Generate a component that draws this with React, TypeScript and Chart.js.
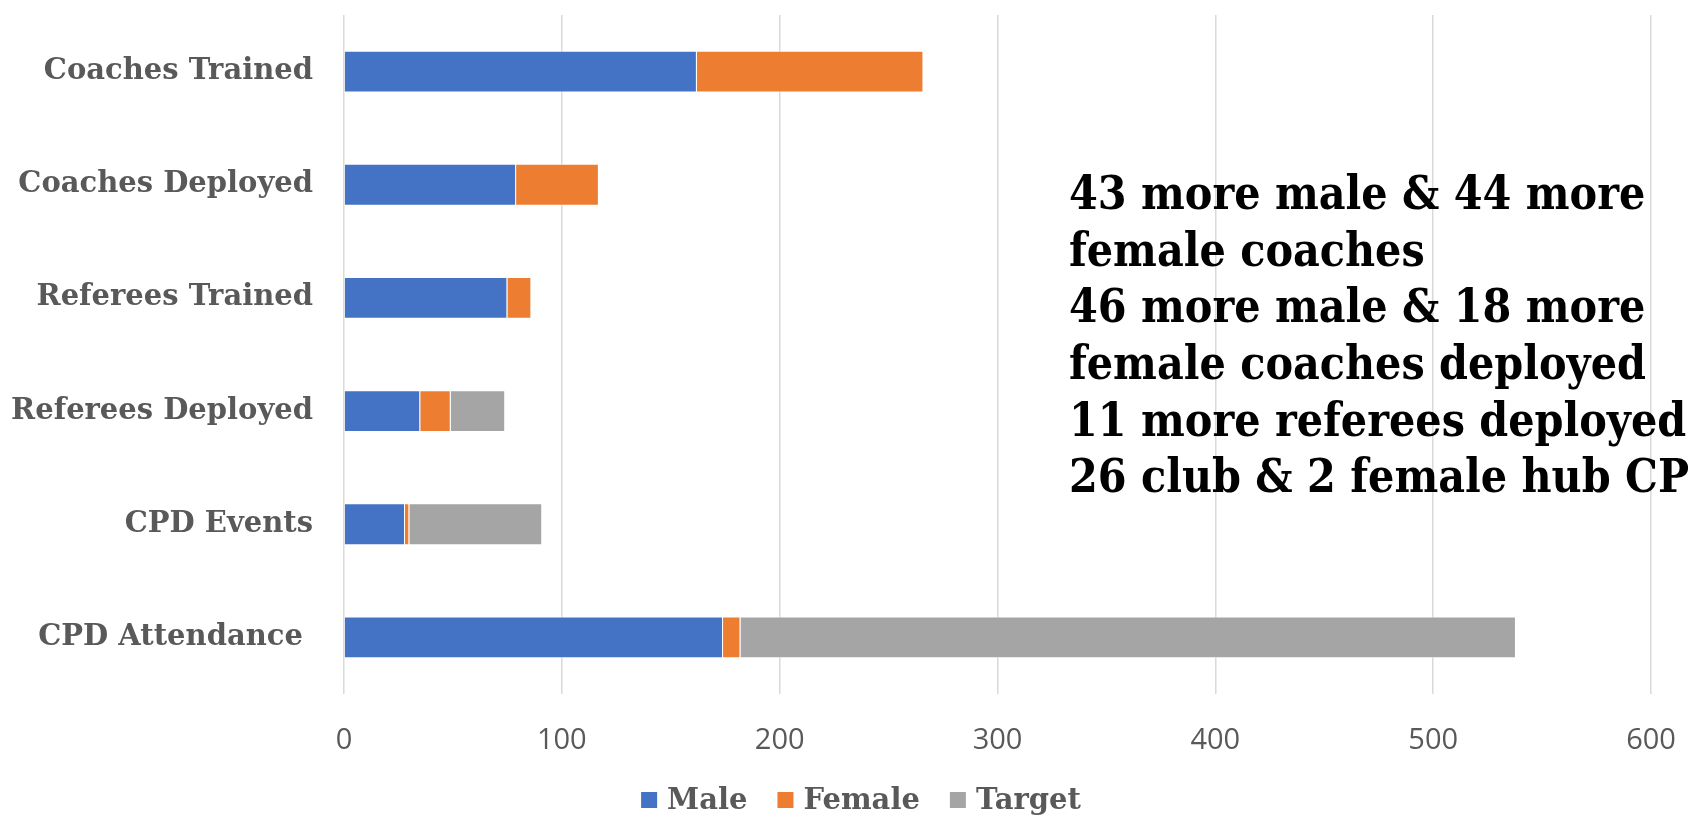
import React, { useEffect, useRef } from "react";
import { Chart, registerables } from "chart.js";

Chart.register(...registerables);

const categories = [
  "Coaches Trained",
  "Coaches Deployed",
  "Referees Trained",
  "Referees Deployed",
  "CPD Events",
  "CPD Attendance ",
];
const maleValues = [162, 79, 75, 35, 28, 174];
const femaleValues = [104, 38, 11, 14, 2, 8];
const targetValues = [null, null, null, 25, 61, 356];
const seriesNames = ["Male", "Female", "Target"];
const seriesColors = ["#4472C4", "#ED7D31", "#A5A5A5"];
const xMin = 0;
const xMax = 600;
const xStep = 100;
const annotationLines = [
  "43 more male & 44 more",
  "female coaches",
  "46 more male & 18 more",
  "female coaches deployed",
  "11 more referees deployed",
  "26 club & 2 female hub CPD events",
];

const SLAB = '"DejaVu Serif", serif';
const SLAB_COND = '"DejaVu Serif Condensed", "DejaVu Serif", serif';

const annotationPlugin = {
  id: "annotationText",
  afterDraw(chart: any) {
    const ctx = chart.ctx;
    ctx.save();
    ctx.fillStyle = "#000000";
    ctx.font = `bold 46px ${SLAB_COND}`;
    ctx.textBaseline = "middle";
    ctx.textAlign = "left";
    annotationLines.forEach((line, i) => {
      ctx.fillText(line, 1069, 197 + i * 56.7);
    });
    ctx.restore();
  },
};

const legendPlugin = {
  id: "customLegend",
  afterDraw(chart: any) {
    const ctx = chart.ctx;
    const items = chart.data.datasets.map((d: any) => ({ text: d.label, color: d.backgroundColor }));
    ctx.save();
    ctx.font = `bold 29px ${SLAB}`;
    ctx.textBaseline = "middle";
    ctx.textAlign = "left";
    const box = 16;
    const gapBoxText = 10;
    const gapItems = 30;
    const widths = items.map((it: any) => box + gapBoxText + ctx.measureText(it.text).width);
    const total = widths.reduce((a: number, b: number) => a + b, 0) + gapItems * (items.length - 1);
    let x = 861 - total / 2;
    const cy = 800;
    items.forEach((it: any, i: number) => {
      ctx.fillStyle = it.color;
      ctx.fillRect(x, cy - box / 2, box, box);
      ctx.fillStyle = "#595959";
      ctx.fillText(it.text, x + box + gapBoxText, cy + 1);
      x += widths[i] + gapItems;
    });
    ctx.restore();
  },
};

export default function App() {
  const canvasRef = useRef<HTMLCanvasElement | null>(null);

  useEffect(() => {
    document.body.style.margin = "0";
    const canvas = canvasRef.current;
    if (!canvas) return;
    const chart = new Chart(canvas, {
      type: "bar",
      data: {
        labels: categories,
        datasets: [
          { label: seriesNames[0], data: maleValues, backgroundColor: seriesColors[0] },
          { label: seriesNames[1], data: femaleValues, backgroundColor: seriesColors[1] },
          { label: seriesNames[2], data: targetValues, backgroundColor: seriesColors[2] },
        ].map((d) => ({
          ...d,
          borderColor: "rgba(255,255,255,0.7)",
          borderWidth: 1,
          categoryPercentage: 1,
          barPercentage: 0.37,
        })),
      },
      options: {
        indexAxis: "y",
        animation: false,
        responsive: false,
        maintainAspectRatio: false,
        layout: { padding: { top: 15, right: 37, left: 0, bottom: 60 } },
        plugins: {
          legend: { display: false },
          tooltip: { enabled: false },
        },
        scales: {
          x: {
            stacked: true,
            min: xMin,
            max: xMax,
            ticks: {
              stepSize: xStep,
              padding: 29,
              color: "#595959",
              font: { family: '"Open Sans", sans-serif', size: 29 },
            },
            grid: { color: "#D9D9D9", lineWidth: 1.5, drawTicks: false },
            border: { display: false },
            afterFit: (scale: any) => {
              scale.height = 62;
              scale.paddingLeft = 0;
              scale.paddingRight = 0;
            },
          },
          y: {
            stacked: true,
            ticks: {
              padding: 31,
              color: "#595959",
              font: { family: SLAB, size: 29, weight: "bold" },
            },
            grid: { display: false, drawTicks: false },
            border: { display: false },
            afterFit: (scale: any) => {
              scale.width = 344;
              scale.paddingTop = 0;
              scale.paddingBottom = 0;
            },
          },
        },
      },
      plugins: [annotationPlugin, legendPlugin],
    } as any);
    return () => chart.destroy();
  }, []);

  return (
    <div style={{ width: 1688, height: 816, position: "relative", background: "#fff" }}>
      <canvas ref={canvasRef} width={1688} height={816} style={{ display: "block" }} />
    </div>
  );
}
